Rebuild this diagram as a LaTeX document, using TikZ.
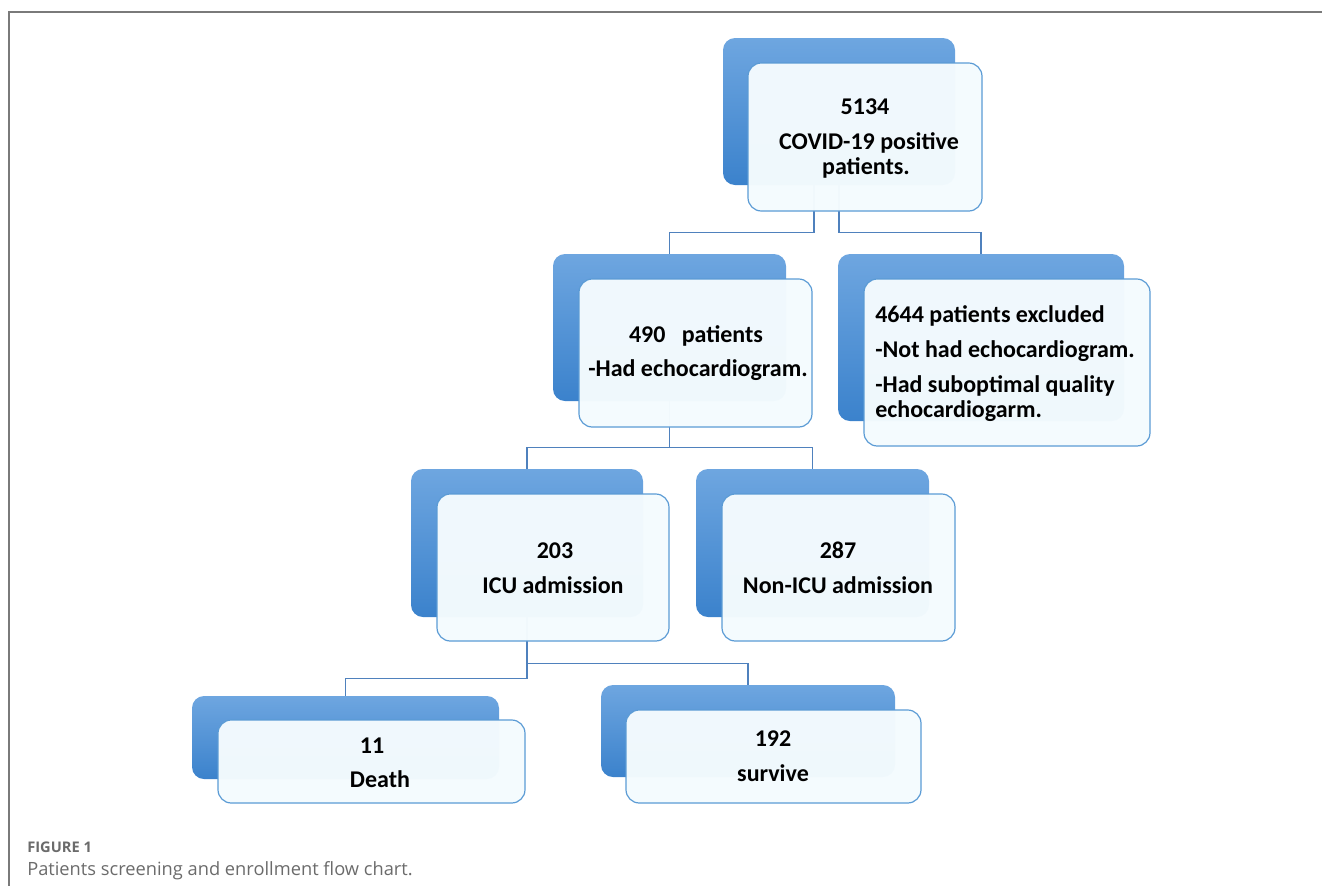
\documentclass[tikz,border=0pt]{standalone}
\usepackage{fontspec}
\setmainfont{Carlito}
\newfontfamily\capfont{Open Sans}
\definecolor{conn}{HTML}{4F81BD}
\definecolor{fbord}{HTML}{5B9BD5}
\definecolor{btop}{HTML}{6EA6E0}
\definecolor{bbot}{HTML}{3B82CC}
\definecolor{ffill}{HTML}{F4FBFE}
\definecolor{capgray}{HTML}{6B6B6B}
\definecolor{framegray}{HTML}{7A7A7A}
\begin{document}
\begin{tikzpicture}[x=0.75pt,y=-0.75pt,
  backbox/.style={rounded corners=9pt, top color=btop, bottom color=bbot, draw=none, inner sep=0pt},
  frontbox/.style={rounded corners=10pt, fill=ffill, fill opacity=0.975, draw=fbord, draw opacity=1, line width=0.9pt, inner sep=0pt},
  conline/.style={draw=conn, line width=0.9pt},
  lbl/.style={font=\fontsize{18}{21}\selectfont\bfseries, inner sep=0pt, anchor=mid},
  lblw/.style={lbl, anchor=mid west},
  frameline/.style={draw=framegray, line width=0.8pt}]
\useasboundingbox (0,0) rectangle (1322,886);
% frame
\coordinate (fTR) at (1322,12);
\coordinate (fTL) at (9,12);
\coordinate (fBL) at (9,886);
\draw[frameline] (fTR) -- (fTL) -- (fBL);

% back boxes
\node[backbox, minimum width=174pt, minimum height=110.25pt] (aB) at (839,111.5) {};
\node[backbox, minimum width=174.75pt, minimum height=110.25pt] (cB) at (669.5,327.5) {};
\node[backbox, minimum width=214.5pt, minimum height=125.25pt] (bB) at (981,337.5) {};
\node[backbox, minimum width=174pt, minimum height=111pt] (dB) at (527,543) {};
\node[backbox, minimum width=174.75pt, minimum height=111pt] (eB) at (812.5,543) {};
\node[backbox, minimum width=230.25pt, minimum height=62.25pt] (fB) at (345.5,737.5) {};
\node[backbox, minimum width=220.5pt, minimum height=69pt] (gB) at (748,731) {};

% connectors
\draw[conline] ([xshift=-18.75pt]aB.south) -- ++(0,47) -| (cB.north);
\draw[conline] (aB.south) -- ++(0,47) -| (bB.north);
\draw[conline] (cB.south) -- ++(0,46) -| (dB.north);
\draw[conline] (cB.south) -- ++(0,46) -| (eB.north);
\draw[conline] (dB.south) -- ++(0,61) -| (fB.north);
\draw[conline] (dB.south) -- ++(0,46) -| (gB.north);

% front boxes
\node[frontbox, minimum width=175.5pt, minimum height=111pt] (aF) at (865,137) {};
\node[frontbox, minimum width=174.75pt, minimum height=111pt] (cF) at (695.5,353) {};
\node[frontbox, minimum width=214.5pt, minimum height=125.25pt] (bF) at (1007,362.5) {};
\node[frontbox, minimum width=174pt, minimum height=110.25pt] (dF) at (553,567.5) {};
\node[frontbox, minimum width=174.75pt, minimum height=110.25pt] (eF) at (838.5,567.5) {};
\node[frontbox, minimum width=230.25pt, minimum height=62.25pt] (fF) at (371.5,761.5) {};
\node[frontbox, minimum width=221.25pt, minimum height=69.75pt] (gF) at (773.5,756.5) {};

% texts
\node[lbl] (aT1) at (865,111) {5134};
\node[lbl] (aT2) at (869,146) {COVID-19 positive};
\node[lbl] (aT3) at (866,171) {patients.};

\node[lbl] (cT1) at (696,339) {490\ \ \ patients};
\node[lbl] (cT2) at (698,373) {-Had echocardiogram.};

\node[lblw] (bT1) at (875,319) {4644 patients excluded};
\node[lblw] (bT2) at (875,354) {-Not had echocardiogram.};
\node[lblw] (bT3) at (875,389) {-Had suboptimal quality};
\node[lblw] (bT4) at (875,414) {echocardiogarm.};

\node[lbl] (dT1) at (555,555) {203};
\node[lbl] (dT2) at (553,590) {ICU admission};

\node[lbl] (eT1) at (838,555) {287};
\node[lbl] (eT2) at (838,590) {Non-ICU admission};

\node[lbl] (fT1) at (372,750) {11};
\node[lbl] (fT2) at (380,784) {Death};

\node[lbl] (gT1) at (773,743) {192};
\node[lbl] (gT2) at (773,778) {survive};

% caption
\node[font=\capfont\fontsize{11}{13}\selectfont\bfseries, text=capgray, inner sep=0pt, anchor=mid west] (cap1) at (27,849) {FIGURE 1};
\node[font=\capfont\fontsize{13.7}{16}\selectfont, text=capgray, inner sep=0pt, anchor=mid west] (cap2) at (27,872) {Patients screening and enrollment flow chart.};
\end{tikzpicture}
\end{document}
